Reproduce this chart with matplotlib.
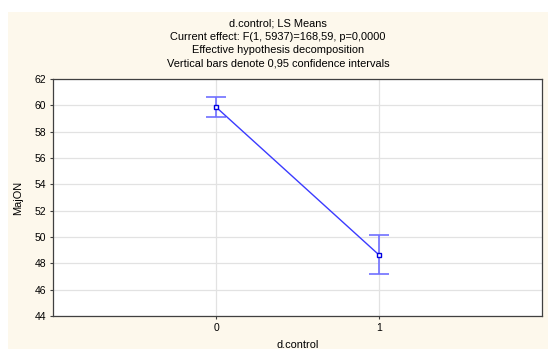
import matplotlib
matplotlib.use('Agg')
import matplotlib.pyplot as plt
from matplotlib.patches import Rectangle

# Данные: LS Means и 95% доверительные интервалы
categories = [0, 1]
means = [59.87, 48.64]
ci_low = [59.11, 47.19]
ci_high = [60.63, 50.15]
y_ticks = [44, 46, 48, 50, 52, 54, 56, 58, 60, 62]

plt.rcParams['font.family'] = ['Liberation Sans', 'DejaVu Sans']

fig = plt.figure(figsize=(5.48, 3.49), dpi=100, facecolor='white')
# кремовый фон как в Statistica
fig.patches.append(Rectangle((8 / 548, 0), 540 / 548, 337 / 349, transform=fig.transFigure,
                             facecolor='#fdf8ec', edgecolor='none', zorder=-10))

ax = fig.add_axes([53 / 548, 1 - 316 / 349, 489 / 548, 237 / 349])
ax.set_zorder(1)
ax.set_facecolor('white')

err_low = [m - l for m, l in zip(means, ci_low)]
err_high = [h - m for m, h in zip(means, ci_high)]
ax.errorbar(categories, means, yerr=[err_low, err_high], fmt='none', ecolor='#7070ff',
            elinewidth=1.2, capsize=7, capthick=1.2, zorder=3)
ax.plot(categories, means, color='#3b3bff', linewidth=1, marker='s', markersize=3.5,
        markerfacecolor='white', markeredgecolor='#0000e0', markeredgewidth=1, zorder=4)

ax.set_xlim(-1, 2)
ax.set_ylim(44, 62)
ax.set_xticks(categories)
ax.set_yticks(y_ticks)
ax.grid(True, color='#e2e2e2', linewidth=0.9)
ax.set_axisbelow(True)
for s in ax.spines.values():
    s.set_color('#404040')
    s.set_linewidth(0.9)
ax.tick_params(axis='both', labelsize=7.5, length=2, color='#404040', pad=3)

ax.set_xlabel('d.control', fontsize=7.9, labelpad=5)
ax.set_ylabel('MajON', fontsize=7.9, labelpad=8)

title = ('d.control; LS Means\n'
         'Current effect: F(1, 5937)=168,59, p=0,0000\n'
         'Effective hypothesis decomposition\n'
         'Vertical bars denote 0,95 confidence intervals')
fig.text(0.5 * (8 + 548) / 548, 1 - 18.5 / 349, title, ha='center', va='top', fontsize=7.9,
         linespacing=1.42)

plt.savefig('out.png', dpi=100)
